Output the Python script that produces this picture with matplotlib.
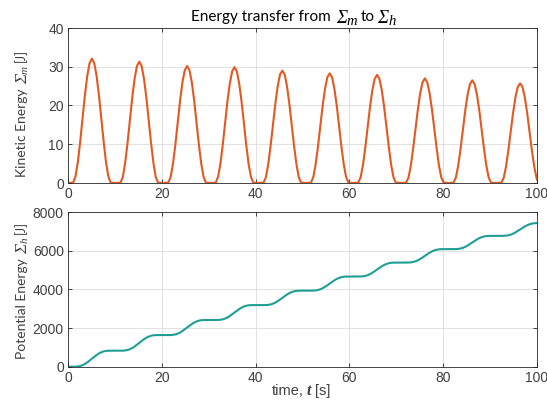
import matplotlib
matplotlib.use("Agg")
import matplotlib.pyplot as plt

plt.rcParams['font.family'] = ['Liberation Sans', 'DejaVu Sans']

# time samples [s]
time_s = [
    0.0,
    1.1, 1.6, 2.1, 2.6, 3.1, 3.6, 4.1, 4.6, 5.1, 5.6, 6.1, 6.6, 7.1, 7.6, 8.1, 8.6, 9.1,
    10.15,
    11.2, 11.7, 12.2, 12.7, 13.2, 13.7, 14.2, 14.7, 15.2, 15.7, 16.2, 16.7, 17.2, 17.7, 18.2, 18.7, 19.2,
    20.3,
    21.4, 21.9, 22.4, 22.9, 23.4, 23.9, 24.4, 24.9, 25.4, 25.9, 26.4, 26.9, 27.4, 27.9, 28.4, 28.9, 29.4,
    30.45,
    31.5, 32.0, 32.5, 33.0, 33.5, 34.0, 34.5, 35.0, 35.5, 36.0, 36.5, 37.0, 37.5, 38.0, 38.5, 39.0, 39.5,
    40.6,
    41.7, 42.2, 42.7, 43.2, 43.7, 44.2, 44.7, 45.2, 45.7, 46.2, 46.7, 47.2, 47.7, 48.2, 48.7, 49.2, 49.7,
    50.75,
    51.8, 52.3, 52.8, 53.3, 53.8, 54.3, 54.8, 55.3, 55.8, 56.3, 56.8, 57.3, 57.8, 58.3, 58.8, 59.3, 59.8,
    60.85,
    61.9, 62.4, 62.9, 63.4, 63.9, 64.4, 64.9, 65.4, 65.9, 66.4, 66.9, 67.4, 67.9, 68.4, 68.9, 69.4, 69.9,
    71.0,
    72.1, 72.6, 73.1, 73.6, 74.1, 74.6, 75.1, 75.6, 76.1, 76.6, 77.1, 77.6, 78.1, 78.6, 79.1, 79.6, 80.1,
    81.15,
    82.2, 82.7, 83.2, 83.7, 84.2, 84.7, 85.2, 85.7, 86.2, 86.7, 87.2, 87.7, 88.2, 88.7, 89.2, 89.7, 90.2,
    91.3,
    92.4, 92.9, 93.4, 93.9, 94.4, 94.9, 95.4, 95.9, 96.4, 96.9, 97.4, 97.9, 98.4, 98.9, 99.4, 99.9, 100.0,
]

# kinetic energy [J]
kinetic = [
    0.0,
    0.1, 1.7, 5.4, 10.7, 16.7, 22.6, 27.6, 30.9, 32.1, 30.9, 27.6, 22.6, 16.7, 10.7, 5.4, 1.7, 0.1,
    0.0,
    0.1, 1.6, 5.3, 10.4, 16.2, 22.1, 26.9, 30.2, 31.3, 30.2, 26.9, 22.1, 16.2, 10.4, 5.3, 1.6, 0.1,
    0.0,
    0.1, 1.6, 5.1, 10.0, 15.7, 21.3, 26.0, 29.1, 30.2, 29.1, 26.0, 21.3, 15.7, 10.0, 5.1, 1.6, 0.1,
    0.0,
    0.1, 1.6, 5.0, 9.9, 15.5, 21.1, 25.7, 28.8, 29.9, 28.8, 25.7, 21.1, 15.5, 9.9, 5.0, 1.6, 0.1,
    0.0,
    0.1, 1.5, 4.9, 9.6, 15.1, 20.4, 24.9, 28.0, 29.0, 28.0, 24.9, 20.4, 15.1, 9.6, 4.9, 1.5, 0.1,
    0.0,
    0.1, 1.5, 4.8, 9.4, 14.7, 20.0, 24.3, 27.3, 28.3, 27.3, 24.3, 20.0, 14.7, 9.4, 4.8, 1.5, 0.1,
    0.0,
    0.1, 1.5, 4.7, 9.3, 14.5, 19.7, 24.0, 26.9, 27.9, 26.9, 24.0, 19.7, 14.5, 9.3, 4.7, 1.5, 0.1,
    0.0,
    0.1, 1.4, 4.5, 9.0, 14.0, 19.0, 23.2, 26.0, 27.0, 26.0, 23.2, 19.0, 14.0, 9.0, 4.5, 1.4, 0.1,
    0.0,
    0.1, 1.4, 4.5, 8.8, 13.8, 18.7, 22.8, 25.5, 26.5, 25.5, 22.8, 18.7, 13.8, 8.8, 4.5, 1.4, 0.1,
    0.0,
    0.1, 1.3, 4.3, 8.5, 13.3, 18.1, 22.1, 24.8, 25.7, 24.8, 22.1, 18.1, 13.3, 8.5, 4.3, 1.3, 0.9,
]

# potential energy [J]
potential = [
    0,
    0, 2, 12, 37, 80, 142, 222, 315, 414, 513, 606, 686, 748, 791, 816, 826, 828,
    828,
    828, 830, 840, 864, 906, 967, 1045, 1135, 1232, 1329, 1420, 1497, 1558, 1600, 1624, 1634, 1636,
    1636,
    1636, 1638, 1648, 1671, 1712, 1770, 1845, 1932, 2026, 2119, 2206, 2281, 2339, 2380, 2403, 2413, 2415,
    2415,
    2415, 2417, 2427, 2450, 2490, 2548, 2622, 2708, 2801, 2893, 2979, 3053, 3111, 3151, 3174, 3184, 3186,
    3186,
    3186, 3188, 3197, 3220, 3259, 3315, 3387, 3470, 3560, 3650, 3734, 3805, 3861, 3900, 3923, 3932, 3934,
    3934,
    3934, 3936, 3945, 3967, 4005, 4060, 4130, 4211, 4299, 4387, 4468, 4538, 4593, 4631, 4653, 4662, 4664,
    4664,
    4664, 4666, 4675, 4696, 4734, 4788, 4857, 4938, 5024, 5110, 5191, 5260, 5314, 5352, 5373, 5382, 5384,
    5384,
    5384, 5386, 5395, 5415, 5452, 5504, 5571, 5649, 5733, 5816, 5894, 5961, 6013, 6050, 6070, 6079, 6081,
    6081,
    6081, 6083, 6091, 6112, 6147, 6199, 6264, 6341, 6423, 6505, 6582, 6647, 6699, 6734, 6755, 6763, 6765,
    6765,
    6765, 6767, 6775, 6795, 6829, 6879, 6943, 7017, 7097, 7176, 7250, 7314, 7364, 7398, 7418, 7426, 7427,
]

x_ticks = [0, 20, 40, 60, 80, 100]
ke_ticks = [0, 10, 20, 30, 40]
pe_ticks = [0, 2000, 4000, 6000, 8000]

ORANGE = '#E05A22'
TEAL = '#1F9E95'
AX = '#262626'
W, H = 547, 411

LATO = dict(family=['Lato', 'DejaVu Sans'])
SERIF_IT = dict(family=['Liberation Serif', 'DejaVu Serif'], style='italic')
SERIF_BI = dict(family=['Liberation Serif', 'DejaVu Serif'], style='italic', weight='bold')
SANS = dict(family=['Liberation Sans', 'DejaVu Sans'])

fig = plt.figure(figsize=(W / 100, H / 100), dpi=100)
ax1 = fig.add_axes([68 / W, 1 - 183 / H, 469 / W, 155 / H])
ax2 = fig.add_axes([68 / W, 1 - 366.7 / H, 469 / W, 154.7 / H])


def style(ax):
    ax.set_xlim(0, 100)
    ax.set_xticks(x_ticks)
    ax.grid(True, color='#dcdcdc', linewidth=0.6)
    ax.set_axisbelow(True)
    ax.tick_params(direction='in', length=3, width=0.6, colors=AX,
                   labelsize=10, top=True, right=True, pad=3)
    for sp in ax.spines.values():
        sp.set_color(AX)
        sp.set_linewidth(0.6)
    for lab in ax.get_xticklabels() + ax.get_yticklabels():
        lab.set_color('#404040')


renderer = fig.canvas.get_renderer()


def measure(s, size, props):
    t = fig.text(0, 0, s, fontsize=size, **props)
    w = t.get_window_extent(renderer).width
    t.remove()
    return w


def compose(pieces, center, base, vertical=False, color='black'):
    """pieces: (text, size, props, baseline_offset_px, gap_after_px)"""
    widths = [measure(p[0], p[1], p[2]) for p in pieces]
    total = sum(widths) + sum(p[4] for p in pieces[:-1])
    pos = center - total / 2 if not vertical else center + total / 2
    for (s, size, props, off, gap), w in zip(pieces, widths):
        if not vertical:
            fig.text(pos / W, 1 - (base + off) / H, s, fontsize=size, color=color,
                     ha='left', va='baseline', **props)
            pos += w + gap
        else:
            fig.text((base + off) / W, 1 - pos / H, s, fontsize=size, color=color,
                     rotation=90, rotation_mode='anchor', ha='left', va='baseline', **props)
            pos -= w + gap


ax1.plot(time_s, kinetic, color=ORANGE, linewidth=1.5)
ax1.set_ylim(0, 40)
ax1.set_yticks(ke_ticks)
style(ax1)

ax2.plot(time_s, potential, color=TEAL, linewidth=1.5)
ax2.set_ylim(0, 8000)
ax2.set_yticks(pe_ticks)
style(ax2)

# title
compose([
    ('Energy transfer from', 11, LATO, 0, 5),
    ('\u03a3', 13.5, SERIF_IT, 2, 0),
    ('m', 10.5, SERIF_IT, 4, 3),
    ('to', 11, LATO, 0, 3),
    ('\u03a3', 13.5, SERIF_IT, 2, 0),
    ('h', 10.5, SERIF_IT, 4, 0),
], center=293.5, base=20.7)

# y labels
compose([
    ('Kinetic Energy', 10, LATO, 0, 5),
    ('\u03a3', 12.5, SERIF_IT, 1, 0),
    ('m', 8, SERIF_IT, 1.5, 4),
    ('[J]', 9, LATO, -1, 0),
], center=113, base=25.7, vertical=True, color='#404040')

compose([
    ('Potential Energy', 10, LATO, 0, 5),
    ('\u03a3', 12.5, SERIF_IT, 1, 0),
    ('h', 8, SERIF_IT, 1.5, 4),
    ('[J]', 9, LATO, -1, 0),
], center=290, base=25.7, vertical=True, color='#404040')

# x label
compose([
    ('time,', 10.5, SANS, 0, 3),
    ('t', 11.5, SERIF_BI, 0, 3),
    ('[s]', 10.5, SANS, 0, 0),
], center=301, base=395, color='#404040')

fig.savefig('out.png', dpi=100)
